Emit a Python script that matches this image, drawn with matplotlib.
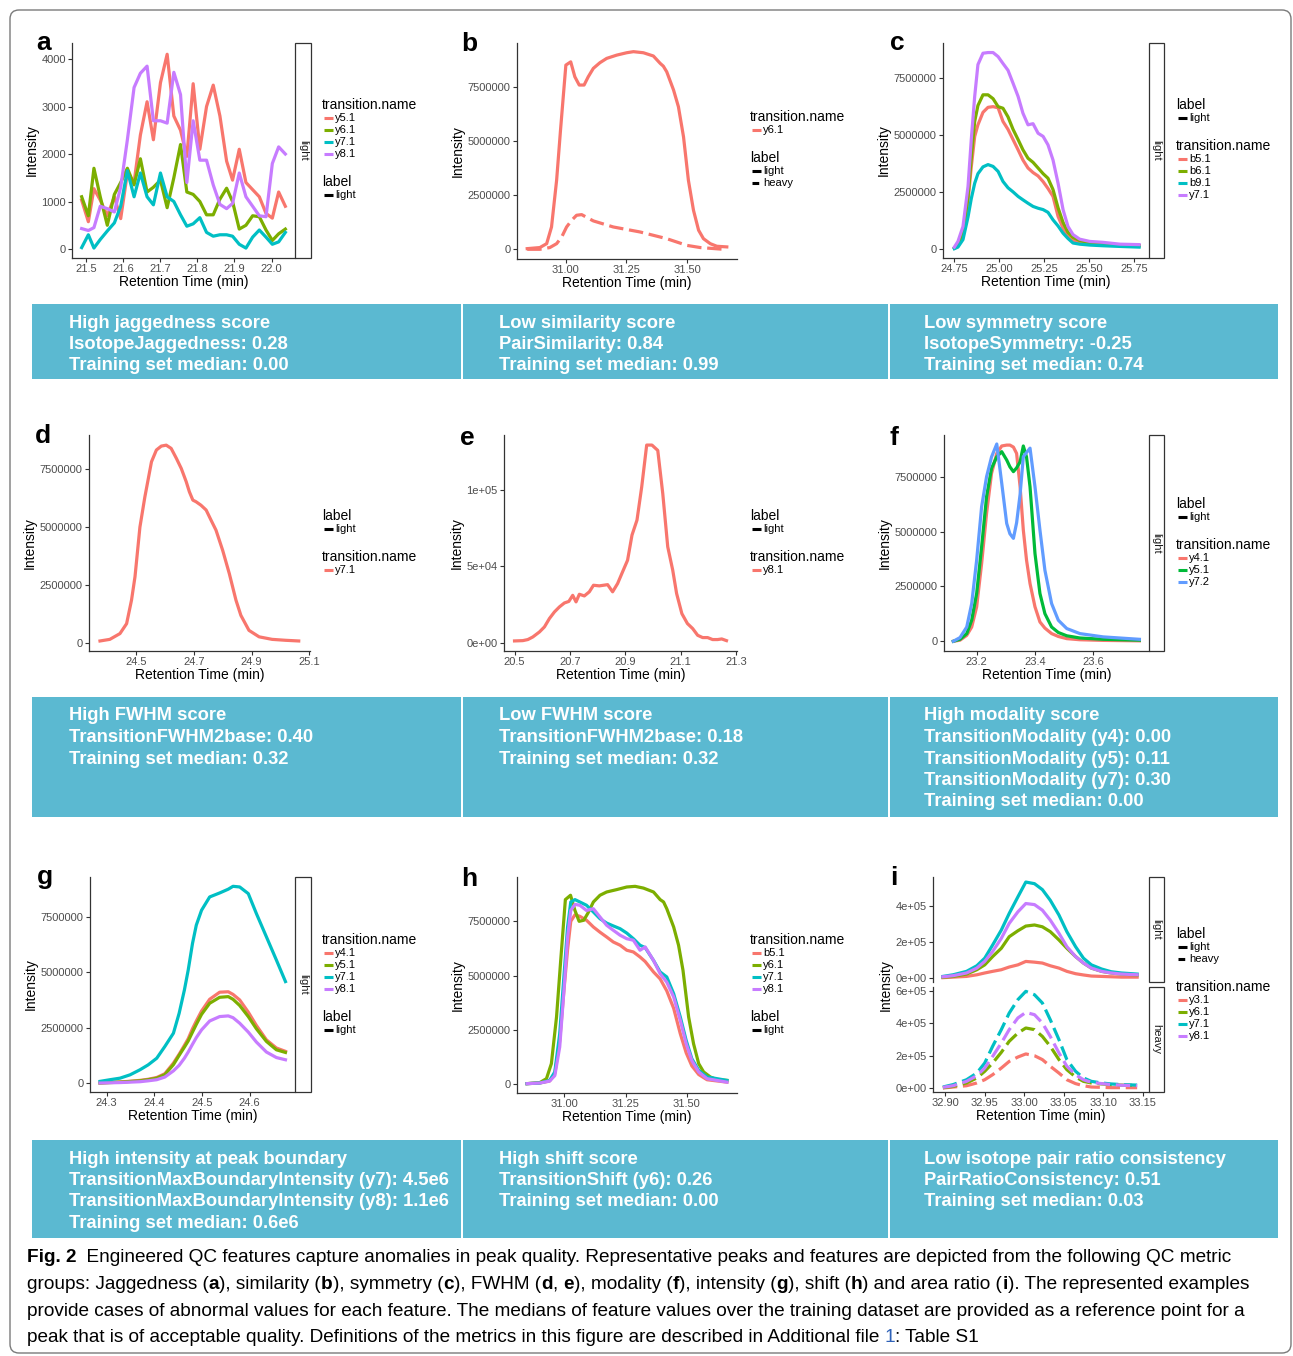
"""
Fig. 2 - engineered QC features (chromatogram panels a-i with feature boxes)
"""

import matplotlib.pyplot as plt
from matplotlib.patches import Rectangle, FancyBboxPatch
from matplotlib.ticker import FuncFormatter

W, H = 1293, 1356
plt.rcParams["font.family"] = ["Liberation Sans", "DejaVu Sans"]

RED, GREEN, CYAN, PURPLE = "#F8766D", "#7CAE00", "#00BFC4", "#C77CFF"
GREEN3, BLUE3 = "#00BA38", "#619CFF"
BOX_BLUE = "#5BB9D1"
AX_COL = "#333333"

# ---- panel a: jaggedness ----
a_time = [21.489, 21.507, 21.522, 21.539, 21.558, 21.577, 21.594, 21.612, 21.630, 21.647,
          21.665, 21.682, 21.701, 21.719, 21.737, 21.755, 21.772, 21.789, 21.807, 21.825,
          21.843, 21.861, 21.879, 21.895, 21.913, 21.931, 21.949, 21.967, 21.985, 22.002,
          22.019, 22.037]
a_y51 = [1030, 575, 1270, 1030, 700, 1100, 640, 1600, 1400, 2400, 3100, 2300, 3500, 4100, 2800,
         2500, 1950, 3480, 2100, 3000, 3450, 2800, 1850, 1450, 2100, 1400, 1250, 1100, 750, 650,
         1200, 900]
a_y61 = [1100, 700, 1700, 1100, 500, 1150, 1400, 1700, 1350, 1900, 1200, 1300, 1450, 870, 1500,
         2200, 1200, 1150, 1000, 720, 720, 1050, 1280, 1000, 420, 500, 700, 680, 400, 180, 320, 420]
a_y71 = [30, 300, 20, 200, 380, 550, 900, 1650, 1100, 1600, 1100, 930, 1600, 1100, 1000, 720,
         480, 530, 660, 350, 270, 300, 300, 270, 100, 20, 250, 400, 250, 100, 150, 350]
a_y81 = [430, 390, 450, 900, 850, 780, 1300, 2300, 3400, 3700, 3850, 2700, 2700, 2650, 3720,
         3250, 1400, 2700, 1870, 1870, 1350, 940, 850, 960, 1600, 1100, 900, 700, 680, 1800,
         2150, 2000]

# ---- panel b: similarity ----
b_time_light = [30.842, 30.894, 30.922, 30.942, 30.963, 30.979, 31.001, 31.021, 31.038, 31.056,
                31.076, 31.093, 31.114, 31.141, 31.169, 31.210, 31.251, 31.279, 31.320, 31.361,
                31.389, 31.402, 31.416, 31.444, 31.464, 31.485, 31.505, 31.526, 31.547, 31.567,
                31.595, 31.622, 31.663]
b_light = [0.03e6, 0.08e6, 0.26e6, 1.03e6, 3.19e6, 5.50e6, 8.50e6, 8.65e6, 7.96e6, 7.58e6,
           7.58e6, 7.96e6, 8.35e6, 8.61e6, 8.81e6, 8.96e6, 9.07e6, 9.12e6, 9.07e6, 8.92e6,
           8.58e6, 8.45e6, 8.19e6, 7.35e6, 6.58e6, 5.19e6, 3.19e6, 1.80e6, 0.88e6, 0.49e6,
           0.26e6, 0.14e6, 0.11e6]
b_time_heavy = [30.842, 30.894, 30.935, 30.963, 30.984, 31.004, 31.025, 31.045, 31.066, 31.114,
                31.196, 31.306, 31.416, 31.499, 31.554, 31.650]
b_heavy = [0.0, 0.0, 0.08e6, 0.26e6, 0.57e6, 1.03e6, 1.34e6, 1.57e6, 1.60e6, 1.31e6,
           1.03e6, 0.80e6, 0.49e6, 0.18e6, 0.08e6, 0.0]

# ---- panel c: symmetry ----
c_time = [24.750, 24.770, 24.798, 24.826, 24.844, 24.863, 24.881, 24.909, 24.937, 24.965,
          24.993, 25.020, 25.048, 25.076, 25.104, 25.131, 25.159, 25.187, 25.215, 25.243,
          25.270, 25.298, 25.326, 25.354, 25.381, 25.409, 25.446, 25.502, 25.576, 25.669, 25.776]
c_b51 = [0.03, 0.12, 0.55, 2.1, 3.6, 4.94, 5.45, 6.0, 6.22, 6.25, 6.2, 5.6, 5.25, 4.8, 4.35,
         3.9, 3.55, 3.35, 3.2, 2.95, 2.65, 2.3, 1.42, 0.9, 0.55, 0.38, 0.28, 0.22, 0.18, 0.15, 0.13]
c_b61 = [0.03, 0.12, 0.6, 2.3, 4.0, 5.6, 6.3, 6.77, 6.77, 6.6, 6.25, 6.18, 5.8, 5.25, 4.8,
         4.35, 3.98, 3.8, 3.55, 3.3, 3.1, 2.6, 1.8, 1.15, 0.72, 0.5, 0.36, 0.25, 0.2, 0.16, 0.13]
c_b91 = [0.0, 0.07, 0.4, 1.4, 2.2, 2.88, 3.3, 3.6, 3.7, 3.62, 3.4, 2.96, 2.68, 2.5, 2.3,
         2.15, 2.0, 1.86, 1.78, 1.72, 1.6, 1.27, 1.0, 0.68, 0.45, 0.25, 0.2, 0.16, 0.13, 0.1, 0.07]
c_y71 = [0.07, 0.32, 0.98, 2.74, 4.8, 6.7, 8.1, 8.6, 8.63, 8.63, 8.45, 8.15, 7.85, 7.28, 6.7,
         5.96, 5.45, 5.5, 5.08, 4.94, 4.57, 3.9, 2.88, 1.71, 0.98, 0.62, 0.42, 0.32, 0.28, 0.2, 0.18]

# ---- panel d: high FWHM ----
d_time = [24.376, 24.410, 24.445, 24.468, 24.485, 24.497, 24.514, 24.531, 24.554, 24.571,
          24.588, 24.605, 24.622, 24.640, 24.657, 24.674, 24.685, 24.697, 24.708, 24.725,
          24.743, 24.760, 24.777, 24.800, 24.823, 24.846, 24.863, 24.891, 24.926, 24.971,
          25.017, 25.063]
d_y71 = [0.07, 0.14, 0.39, 0.82, 1.84, 2.85, 5.0, 6.3, 7.83, 8.34, 8.51, 8.55, 8.41, 7.98, 7.54,
         6.97, 6.53, 6.17, 6.1, 5.95, 5.74, 5.3, 4.87, 4.0, 2.99, 1.84, 1.18, 0.53, 0.25, 0.14,
         0.10, 0.07]

# ---- panel e: low FWHM ----
e_time = [20.500, 20.530, 20.548, 20.566, 20.590, 20.608, 20.626, 20.644, 20.662, 20.680,
          20.696, 20.710, 20.722, 20.734, 20.752, 20.770, 20.785, 20.806, 20.836, 20.854,
          20.872, 20.890, 20.908, 20.924, 20.942, 20.959, 20.977, 20.996, 21.017, 21.035,
          21.053, 21.071, 21.085, 21.104, 21.124, 21.143, 21.161, 21.179, 21.197, 21.215,
          21.233, 21.248, 21.265]
e_y81 = [1.1, 1.3, 2.0, 3.7, 7.0, 10.3, 15.8, 20.1, 23.4, 26.0, 27.0, 31.0, 26.7, 31.7, 30.6,
         33.3, 37.6, 37.2, 38.0, 33.3, 38.7, 46.4, 54.0, 70.5, 80.3, 102.0, 129.5, 129.5, 126.0,
         97.8, 62.8, 47.5, 32.2, 19.0, 12.5, 9.2, 4.8, 3.3, 3.3, 2.0, 2.0, 2.4, 1.3]

# ---- panel f: modality ----
f_time = [23.120, 23.143, 23.166, 23.183, 23.200, 23.217, 23.234, 23.251, 23.269, 23.286,
          23.303, 23.314, 23.326, 23.337, 23.349, 23.360, 23.371, 23.383, 23.400, 23.417,
          23.434, 23.457, 23.480, 23.509, 23.554, 23.634, 23.758]
f_y41 = [0.0, 0.05, 0.27, 0.65, 1.57, 3.54, 5.83, 7.65, 8.56, 8.9, 8.94, 8.94, 8.85, 8.56, 7.04,
         5.07, 3.7, 2.63, 1.57, 0.88, 0.6, 0.35, 0.22, 0.12, 0.07, 0.04, 0.02]
f_y51 = [0.0, 0.09, 0.35, 0.96, 2.18, 4.3, 6.59, 7.88, 8.41, 8.64, 8.26, 7.95, 7.73, 7.9, 8.18,
         8.9, 8.4, 7.04, 4.0, 2.18, 1.26, 0.65, 0.4, 0.25, 0.15, 0.09, 0.05]
f_y72 = [0.0, 0.17, 0.65, 1.72, 3.7, 6.13, 7.5, 8.4, 8.99, 7.2, 5.37, 4.9, 4.69, 5.4, 6.7,
         8.41, 8.6, 8.8, 7.04, 5.07, 3.24, 1.72, 0.96, 0.58, 0.35, 0.2, 0.09]

# ---- panel g: intensity at boundary ----
g_time = [24.286, 24.307, 24.328, 24.349, 24.370, 24.387, 24.405, 24.422, 24.440, 24.452,
          24.463, 24.471, 24.480, 24.488, 24.499, 24.516, 24.537, 24.555, 24.565, 24.579,
          24.597, 24.614, 24.635, 24.656, 24.675]
g_y41 = [0.0, 0.03, 0.05, 0.08, 0.12, 0.17, 0.25, 0.42, 0.9, 1.3, 1.7, 2.0, 2.45, 2.8, 3.25,
         3.78, 4.1, 4.12, 4.0, 3.75, 3.2, 2.6, 1.95, 1.58, 1.43]
g_y51 = [0.0, 0.02, 0.04, 0.07, 0.1, 0.15, 0.22, 0.38, 0.83, 1.25, 1.62, 1.9, 2.3, 2.65, 3.1,
         3.6, 3.87, 3.9, 3.78, 3.5, 3.0, 2.45, 1.88, 1.5, 1.38]
g_y71 = [0.075, 0.15, 0.22, 0.37, 0.6, 0.82, 1.12, 1.65, 2.25, 3.15, 4.2, 5.1, 6.3, 7.13, 7.8,
         8.4, 8.58, 8.75, 8.88, 8.85, 8.55, 7.65, 6.6, 5.55, 4.58]
g_y81 = [0.0, 0.01, 0.02, 0.04, 0.06, 0.1, 0.15, 0.27, 0.55, 0.8, 1.12, 1.4, 1.75, 2.05, 2.4,
         2.8, 3.0, 3.03, 2.95, 2.7, 2.3, 1.85, 1.4, 1.15, 1.05]

# ---- panel h: shift ----
h_time_y6 = [30.849, 30.901, 30.928, 30.948, 30.969, 30.986, 31.005, 31.026, 31.044, 31.061,
             31.080, 31.098, 31.119, 31.146, 31.173, 31.214, 31.255, 31.289, 31.323, 31.364,
             31.391, 31.405, 31.418, 31.446, 31.466, 31.484, 31.507, 31.527, 31.548, 31.568,
             31.595, 31.623, 31.663]
h_y61 = [0.03, 0.08, 0.26, 0.95, 3.1, 5.7, 8.5, 8.7, 8.0, 7.5, 7.55, 7.9, 8.39, 8.7, 8.85, 8.96,
         9.08, 9.11, 9.03, 8.85, 8.5, 8.39, 8.08, 7.24, 6.4, 5.25, 3.1, 1.87, 0.95, 0.57, 0.34,
         0.21, 0.18]
h_time = [30.849, 30.901, 30.941, 30.962, 30.982, 30.999, 31.014, 31.027, 31.044, 31.064,
          31.091, 31.119, 31.146, 31.173, 31.200, 31.228, 31.255, 31.282, 31.309, 31.330,
          31.364, 31.391, 31.418, 31.446, 31.473, 31.497, 31.520, 31.548, 31.582, 31.663]
h_b51 = [0.03, 0.06, 0.15, 0.49, 2.0, 4.3, 6.2, 7.5, 7.8, 7.73, 7.55, 7.24, 7.0, 6.78, 6.55,
         6.4, 6.17, 6.09, 5.86, 5.65, 5.17, 4.85, 4.3, 3.5, 2.33, 1.45, 0.85, 0.45, 0.21, 0.1]
h_y71 = [0.03, 0.06, 0.18, 0.57, 2.33, 4.94, 7.24, 8.39, 8.5, 8.39, 8.24, 7.93, 7.62, 7.42, 7.29,
         7.16, 6.96, 6.7, 6.4, 6.29, 5.7, 5.17, 4.94, 4.17, 3.1, 2.02, 1.18, 0.64, 0.34, 0.18]
h_y81 = [0.03, 0.06, 0.15, 0.4, 1.72, 4.3, 6.78, 8.0, 8.28, 8.24, 8.0, 8.08, 7.7, 7.32, 7.09,
         6.86, 6.7, 6.63, 6.17, 6.32, 5.7, 5.09, 4.7, 4.02, 2.94, 1.87, 1.1, 0.57, 0.26, 0.1]

# ---- panel i: pair ratio consistency (values x 1000) ----
i_time = [32.897, 32.910, 32.927, 32.940, 32.950, 32.960, 32.971, 32.981, 32.992, 33.002,
          33.013, 33.023, 33.033, 33.044, 33.054, 33.065, 33.075, 33.085, 33.098, 33.110,
          33.123, 33.143]
i_light_y31 = [2, 5, 9, 18, 28, 37, 46, 61, 73, 92, 88, 83, 68, 55, 37, 24, 17, 11, 9, 7, 5, 5]
i_light_y61 = [5, 9, 22, 46, 73, 119, 165, 229, 262, 288, 294, 284, 257, 211, 165, 119, 83, 55,
               37, 28, 22, 17]
i_light_y71 = [9, 18, 37, 68, 110, 183, 266, 358, 450, 532, 523, 490, 431, 349, 257, 174, 110,
               73, 50, 35, 28, 22]
i_light_y81 = [7, 13, 28, 55, 92, 147, 220, 303, 367, 413, 407, 376, 321, 248, 174, 119, 83, 55,
               37, 28, 22, 18]
i_heavy_y31 = [0, 6, 14, 31, 51, 82, 123, 164, 191, 210, 199, 175, 134, 92, 51, 27, 14, 6, 4, 2,
               2, 2]
i_heavy_y61 = [2, 10, 31, 62, 103, 154, 220, 288, 339, 370, 360, 318, 257, 175, 113, 68, 41, 31,
               25, 21, 18, 16]
i_heavy_y71 = [6, 21, 51, 92, 154, 257, 360, 462, 545, 596, 575, 524, 421, 298, 175, 103, 62, 41,
               31, 25, 21, 18]
i_heavy_y81 = [4, 14, 41, 76, 123, 195, 277, 360, 432, 466, 452, 401, 318, 216, 134, 82, 51, 35,
               27, 21, 17, 14]

# ---- feature boxes ----
row1_text = [["High jaggedness score", "IsotopeJaggedness: 0.28", "Training set median: 0.00"],
             ["Low similarity score", "PairSimilarity: 0.84", "Training set median: 0.99"],
             ["Low symmetry score", "IsotopeSymmetry: -0.25", "Training set median: 0.74"]]
row2_text = [["High FWHM score", "TransitionFWHM2base: 0.40", "Training set median: 0.32"],
             ["Low FWHM score", "TransitionFWHM2base: 0.18", "Training set median: 0.32"],
             ["High modality score", "TransitionModality (y4): 0.00",
              "TransitionModality (y5): 0.11", "TransitionModality (y7): 0.30",
              "Training set median: 0.00"]]
row3_text = [["High intensity at peak boundary", "TransitionMaxBoundaryIntensity (y7): 4.5e6",
              "TransitionMaxBoundaryIntensity (y8): 1.1e6", "Training set median: 0.6e6"],
             ["High shift score", "TransitionShift (y6): 0.26", "Training set median: 0.00"],
             ["Low isotope pair ratio consistency", "PairRatioConsistency: 0.51",
              "Training set median: 0.03"]]


fig = plt.figure(figsize=(W / 100, H / 100), dpi=100)
bg = fig.add_axes([0, 0, 1, 1])
bg.set_xlim(0, W)
bg.set_ylim(H, 0)
bg.axis("off")
renderer = fig.canvas.get_renderer()


def panel(box, xlim, ylim, xticks, xfmt, yticks, yfmt, xaxis=True, ylabel=True):
    x0, y0, x1, y1 = box
    ax = fig.add_axes([x0 / W, 1 - y1 / H, (x1 - x0) / W, (y1 - y0) / H])
    ax.patch.set_alpha(0)
    ax.set_xlim(xlim)
    ax.set_ylim(ylim)
    ax.set_yticks(yticks)
    ax.yaxis.set_major_formatter(FuncFormatter(lambda v, _: yfmt.format(v)))
    for s in ("top", "right"):
        ax.spines[s].set_visible(False)
    ax.spines["left"].set_color(AX_COL)
    ax.spines["left"].set_linewidth(0.9)
    ax.tick_params(labelsize=8, labelcolor="#4D4D4D", color=AX_COL, length=3, width=0.8, pad=1.5)
    if xaxis:
        ax.set_xticks(xticks)
        ax.xaxis.set_major_formatter(FuncFormatter(lambda v, _: xfmt.format(v)))
        ax.spines["bottom"].set_color(AX_COL)
        ax.spines["bottom"].set_linewidth(0.9)
        ax.set_xlabel("Retention Time (min)", fontsize=10, labelpad=0.5)
    else:
        ax.spines["bottom"].set_visible(False)
        ax.set_xticks([])
    if ylabel:
        ax.set_ylabel("Intensity", fontsize=10, labelpad=2)
    return ax


def strip(box, label):
    x0, y0, x1, y1 = box
    bg.add_patch(Rectangle((x0, y0), x1 - x0, y1 - y0, fc="white", ec=AX_COL, lw=0.9))
    bg.text((x0 + x1) / 2, (y0 + y1) / 2, label, rotation=-90, fontsize=8, color="#1A1A1A",
            ha="center", va="center")


def legend_block(x, y, title, entries):
    bg.text(x, y, title, fontsize=10, ha="left", va="center")
    for k, (lab, col, dashed) in enumerate(entries):
        yy = y + 13 + 12 * k
        ls = (0, (2.2, 1.5)) if dashed else "-"
        bg.plot([x + 2, x + 11], [yy, yy], color=col, lw=2.2, ls=ls, solid_capstyle="butt",
                dash_capstyle="butt")
        bg.text(x + 13, yy, lab, fontsize=8, ha="left", va="center")


def line(ax, t, y, color, dashed=False, scale=1.0):
    ys = [v * scale for v in y]
    if dashed:
        ax.plot(t, ys, color=color, lw=2.3, ls=(0, (4.5, 1.8)), dash_capstyle="butt")
    else:
        ax.plot(t, ys, color=color, lw=2.3, solid_joinstyle="round")


LIGHT = [("light", "black", False)]
LIGHT_HEAVY = [("light", "black", False), ("heavy", "black", True)]
E6 = 1e6
INT_TICKS = [0, 2500000, 5000000, 7500000]

# panel a
ax = panel((72, 43, 295, 258), (21.463, 22.063), (-189, 4337), [21.5, 21.6, 21.7, 21.8, 21.9, 22.0],
           "{:.1f}", [0, 1000, 2000, 3000, 4000], "{:.0f}")
for y, c in ((a_y51, RED), (a_y61, GREEN), (a_y71, CYAN), (a_y81, PURPLE)):
    line(ax, a_time, y, c)
strip((295, 43, 311, 258), "light")
legend_block(322, 105, "transition.name",
             [("y5.1", RED, False), ("y6.1", GREEN, False), ("y7.1", CYAN, False),
              ("y8.1", PURPLE, False)])
legend_block(322, 182, "label", LIGHT)

# panel b
ax = panel((517, 43, 737, 259), (30.80, 31.705), (-0.448e6, 9.52e6), [31.0, 31.25, 31.5], "{:.2f}",
           INT_TICKS, "{:.0f}")
line(ax, b_time_light, b_light, RED)
line(ax, b_time_heavy, b_heavy, RED, dashed=True)
legend_block(750, 117, "transition.name", [("y6.1", RED, False)])
legend_block(750, 158, "label", LIGHT_HEAVY)

# panel c
ax = panel((943, 43, 1149, 258), (24.687, 25.831), (-0.409e6, 9.05e6), [24.75, 25.0, 25.25, 25.5, 25.75],
           "{:.2f}", INT_TICKS, "{:.0f}")
for y, c in ((c_b51, RED), (c_b61, GREEN), (c_b91, CYAN), (c_y71, PURPLE)):
    line(ax, c_time, y, c, scale=E6)
strip((1149, 43, 1164, 258), "light")
legend_block(1176, 105, "label", LIGHT)
legend_block(1176, 146, "transition.name",
             [("b5.1", RED, False), ("b6.1", GREEN, False), ("b9.1", CYAN, False),
              ("y7.1", PURPLE, False)])

# panel d
ax = panel((89, 435, 310, 651), (24.338, 25.102), (-0.364e6, 8.99e6), [24.5, 24.7, 24.9, 25.1],
           "{:.1f}", INT_TICKS, "{:.0f}")
line(ax, d_time, d_y71, RED, scale=E6)
legend_block(322, 516, "label", LIGHT)
legend_block(322, 557, "transition.name", [("y7.1", RED, False)])

# panel e
ax = panel((504, 435, 737, 651), (20.462, 21.303), (-5.5e3, 1.361e5), [20.5, 20.7, 20.9, 21.1, 21.3],
           "{:.1f}", [0, 50000, 100000], "{:.0e}")
line(ax, e_time, e_y81, RED, scale=1e3)
legend_block(750, 516, "label", LIGHT)
legend_block(750, 557, "transition.name", [("y8.1", RED, False)])

# panel f
ax = panel((944, 435, 1149, 651), (23.088, 23.791), (-0.443e6, 9.40e6), [23.2, 23.4, 23.6], "{:.1f}",
           INT_TICKS, "{:.0f}")
for y, c in ((f_y41, RED), (f_y51, GREEN3), (f_y72, BLUE3)):
    line(ax, f_time, y, c, scale=E6)
strip((1149, 435, 1164, 651), "light")
legend_block(1176, 504, "label", LIGHT)
legend_block(1176, 545, "transition.name",
             [("y4.1", RED, False), ("y5.1", GREEN3, False), ("y7.2", BLUE3, False)])

# panel g
ax = panel((90, 877, 295, 1092), (24.265, 24.695), (-0.405e6, 9.30e6), [24.3, 24.4, 24.5, 24.6],
           "{:.1f}", INT_TICKS, "{:.0f}")
for y, c in ((g_y41, RED), (g_y51, GREEN), (g_y71, CYAN), (g_y81, PURPLE)):
    line(ax, g_time, y, c, scale=E6)
strip((295, 877, 311, 1092), "light")
legend_block(322, 940, "transition.name",
             [("y4.1", RED, False), ("y5.1", GREEN, False), ("y7.1", CYAN, False),
              ("y8.1", PURPLE, False)])
legend_block(322, 1017, "label", LIGHT)

# panel h
ax = panel((517, 877, 737, 1093), (30.808, 31.704), (-0.40e6, 9.54e6), [31.0, 31.25, 31.5], "{:.2f}",
           INT_TICKS, "{:.0f}")
line(ax, h_time, h_b51, RED, scale=E6)
line(ax, h_time_y6, h_y61, GREEN, scale=E6)
line(ax, h_time, h_y71, CYAN, scale=E6)
line(ax, h_time, h_y81, PURPLE, scale=E6)
legend_block(750, 940, "transition.name",
             [("b5.1", RED, False), ("y6.1", GREEN, False), ("y7.1", CYAN, False),
              ("y8.1", PURPLE, False)])
legend_block(750, 1017, "label", LIGHT)

# panel i (two facets)
i_xticks = [32.90, 32.95, 33.00, 33.05, 33.10, 33.15]
ax_top = panel((933, 877, 1149, 982), (32.8845, 33.158), (-0.022e6, 0.56e6), i_xticks, "{:.2f}",
               [0, 200000, 400000], "{:.0e}", xaxis=False, ylabel=False)
ax_bot = panel((933, 987, 1149, 1092), (32.8845, 33.158), (-0.0247e6, 0.6228e6), i_xticks, "{:.2f}",
               [0, 200000, 400000, 600000], "{:.0e}", ylabel=False)
for y, c in ((i_light_y31, RED), (i_light_y61, GREEN), (i_light_y71, CYAN), (i_light_y81, PURPLE)):
    line(ax_top, i_time, y, c, scale=1e3)
for y, c in ((i_heavy_y31, RED), (i_heavy_y61, GREEN), (i_heavy_y71, CYAN), (i_heavy_y81, PURPLE)):
    line(ax_bot, i_time, y, c, dashed=True, scale=1e3)
bg.text(886, 985, "Intensity", rotation=90, fontsize=10, ha="center", va="center")
strip((1149, 877, 1164, 982), "light")
strip((1149, 987, 1164, 1092), "heavy")
legend_block(1176, 934, "label", LIGHT_HEAVY)
legend_block(1176, 987, "transition.name",
             [("y3.1", RED, False), ("y6.1", GREEN, False), ("y7.1", CYAN, False),
              ("y8.1", PURPLE, False)])

# panel letters
for ch, x, y in (("a", 36, 50), ("b", 461, 51), ("c", 890, 50), ("d", 35, 443), ("e", 460, 445),
                 ("f", 890, 445), ("g", 37, 884), ("h", 461, 886), ("i", 890, 885)):
    bg.text(x, y, ch, fontsize=19, fontweight="bold", ha="left", va="baseline")


def advance(s, size, weight="normal"):
    t = bg.text(0, 0, "|" + s + "|", fontsize=size, fontweight=weight)
    w1 = t.get_window_extent(renderer).width
    t.set_text("||")
    w2 = t.get_window_extent(renderer).width
    t.remove()
    return w1 - w2


# blue feature boxes
box_size = 10 * 380 / advance("TransitionMaxBoundaryIntensity (y7): 4.5e6", 10, "bold")
cols = [(32, 461, 69), (462.5, 888, 499), (889.5, 1278, 924)]
for texts, (top, bot) in ((row1_text, (304, 379)), (row2_text, (697, 817)), (row3_text, (1140, 1238))):
    for (x0, x1, tx), lines in zip(cols, texts):
        bg.add_patch(Rectangle((x0, top), x1 - x0, bot - top, fc=BOX_BLUE, ec="none"))
        for k, s in enumerate(lines):
            bg.text(tx, top + 19 + 21.5 * k, s, fontsize=box_size, fontweight="bold",
                    color="white", ha="left", va="center")

# caption
cap_lines = [
    [("Fig. 2", "bold", "black"),
     ("  Engineered QC features capture anomalies in peak quality. Representative peaks and "
      "features are depicted from the following QC metric", "normal", "black")],
    [("groups: Jaggedness (", "normal", "black"), ("a", "bold", "black"),
     ("), similarity (", "normal", "black"), ("b", "bold", "black"),
     ("), symmetry (", "normal", "black"), ("c", "bold", "black"),
     ("), FWHM (", "normal", "black"), ("d", "bold", "black"), (", ", "normal", "black"),
     ("e", "bold", "black"), ("), modality (", "normal", "black"), ("f", "bold", "black"),
     ("), intensity (", "normal", "black"), ("g", "bold", "black"),
     ("), shift (", "normal", "black"), ("h", "bold", "black"),
     (") and area ratio (", "normal", "black"), ("i", "bold", "black"),
     ("). The represented examples", "normal", "black")],
    [("provide cases of abnormal values for each feature. The medians of feature values over the "
      "training dataset are provided as a reference point for a", "normal", "black")],
    [("peak that is of acceptable quality. Definitions of the metrics in this figure are described "
      "in Additional file ", "normal", "black"), ("1", "normal", "#2F62B8"),
     (": Table S1", "normal", "black")],
]
first_w = sum(advance(s, 10, w) for s, w, _ in cap_lines[0])
cap_size = 10 * 1213 / first_w
for k, parts in enumerate(cap_lines):
    x = 27
    for s, w, c in parts:
        bg.text(x, 1258 + 26.5 * k, s, fontsize=cap_size, fontweight=w, color=c,
                ha="left", va="center")
        x += advance(s, cap_size, w)

# outer frame
bg.add_patch(FancyBboxPatch((10, 10), 1281, 1343, boxstyle="round,pad=0,rounding_size=9",
                            fc="none", ec="#7A7A7A", lw=1))

fig.savefig("out.png", dpi=100)
